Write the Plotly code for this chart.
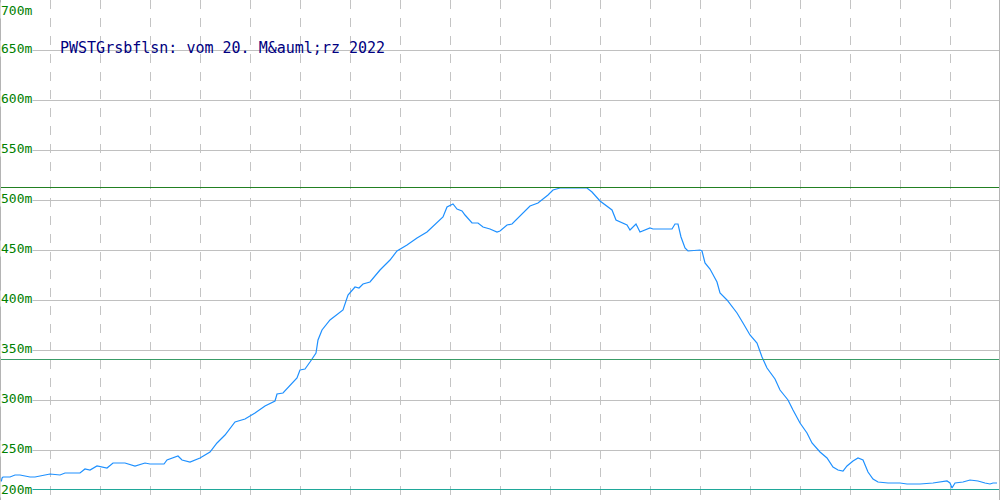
import plotly.graph_objects as go

# distance positions (chart units, 0..1000) and elevation in metres
dist = [0, 2, 3, 10, 15, 20, 30, 35, 50, 60, 65, 80, 85, 90, 97, 107, 113, 125, 135, 145,
        150, 164, 167, 178, 182, 190, 200, 210, 217, 225, 235, 245, 255, 265, 275, 277,
        283, 297, 300, 305, 310, 316, 318, 322, 330, 340, 343, 348, 355, 359, 363, 370,
        380, 390, 397, 407, 417, 427, 437, 443, 447, 453, 457, 462, 465, 472, 478, 483,
        490, 497, 500, 507, 512, 517, 522, 530, 538, 548, 553, 560, 573, 587, 592, 600,
        612, 616, 627, 630, 636, 640, 650, 653, 672, 675, 678, 681, 685, 688, 700, 702,
        705, 710, 717, 720, 727, 737, 743, 750, 757, 762, 767, 775, 780, 788, 793, 800,
        807, 812, 820, 827, 833, 838, 843, 847, 853, 858, 863, 868, 873, 878, 888, 900,
        907, 920, 933, 947, 950, 952, 955, 963, 970, 978, 985, 990, 993, 997]
elev = [211, 222, 223, 223, 225, 225, 223, 223, 226, 225, 227, 227, 231, 230, 234, 232, 237, 237, 234, 237,
        236, 236, 240, 244, 240, 238, 242, 248, 257, 265, 278, 281, 287, 294, 299, 306,
        307, 322, 330, 331, 338, 347, 360, 370, 380, 388, 390, 405, 413, 412, 416, 418,
        430, 440, 449, 455, 462, 468, 478, 483, 493, 496, 491, 489, 485, 477, 477, 473,
        471, 468, 469, 475, 476, 481, 487, 494, 497, 505, 510, 512, 512, 512, 508, 499,
        490, 480, 475, 470, 476, 468, 472, 471, 471, 476, 476, 463, 452, 449, 450, 449,
        437, 431, 418, 407, 400, 387, 377, 365, 357, 343, 332, 321, 310, 300, 290, 277,
        267, 257, 248, 242, 233, 230, 229, 234, 239, 242, 240, 228, 221, 218, 217, 217,
        216, 216, 217, 219, 217, 212, 217, 218, 220, 219, 217, 216, 217, 217]

y_ticks = [200, 250, 300, 350, 400, 450, 500, 550, 600, 650, 700]
tick_text = [f"{v}m" for v in y_ticks]
max_line = 512.5
avg_line = 340.5
min_line = 210.5
title = "PWSTGrsbflsn: vom 20. M&auml;rz 2022"

fig = go.Figure()
fig.add_trace(go.Scatter(x=dist, y=elev, mode="lines",
                         line=dict(color="#1e90ff", width=1.2), hoverinfo="skip"))

for val, col in [(max_line, "#228022"), (avg_line, "#3a9c68"), (min_line, "#1fa89a")]:
    fig.add_shape(type="line", xref="paper", x0=0, x1=1, y0=val, y1=val,
                  line=dict(color=col, width=1), layer="above")

# borders
fig.add_shape(type="line", xref="paper", yref="paper", x0=0, x1=0, y0=0, y1=1,
              line=dict(color="#b4b4b4", width=2))
fig.add_shape(type="line", xref="paper", yref="paper", x0=1, x1=1, y0=0, y1=1,
              line=dict(color="#b4b4b4", width=2))

for v, t in zip(y_ticks, tick_text):
    if v == 700:
        ya, ys = "top", -2
    elif v == 200:
        ya, ys = "bottom", 2
    else:
        ya, ys = "middle", 2
    fig.add_annotation(x=0, xref="paper", y=v, yref="y", text=t, showarrow=False,
                       xanchor="left", yanchor=ya, yshift=ys, xshift=0,
                       font=dict(family="DejaVu Sans Mono", size=13, color="#008000"),
                       bgcolor="white", borderpad=0)

fig.add_annotation(x=59, xref="x", y=652, yref="y", text=title, showarrow=False,
                   xanchor="left", yanchor="middle", borderpad=0,
                   font=dict(family="DejaVu Sans Mono", size=15, color="#000080"))

fig.update_layout(
    width=1000, height=500,
    margin=dict(l=0, r=0, t=0, b=0),
    paper_bgcolor="white", plot_bgcolor="white",
    showlegend=False,
    xaxis=dict(range=[0, 1000], tick0=0, dtick=50, showgrid=True, gridcolor="#c4c4c4",
               griddash="dash", gridwidth=1, showticklabels=False, zeroline=False,
               ticks="", showline=False, fixedrange=True),
    yaxis=dict(range=[200, 700], tick0=200, dtick=50, showgrid=True, gridcolor="#c0c0c0",
               gridwidth=1, showticklabels=False, zeroline=False, ticks="",
               showline=False, fixedrange=True),
)

fig.write_html("out.html", config={"displayModeBar": False},
               post_script="document.body.style.margin='0';")
